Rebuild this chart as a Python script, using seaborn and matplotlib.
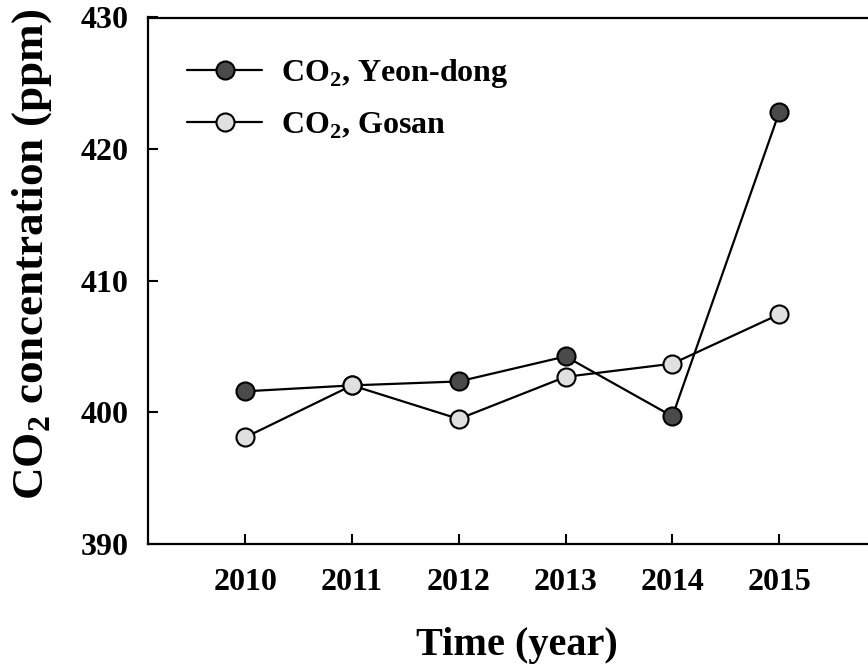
import matplotlib
matplotlib.use("Agg")
import matplotlib.pyplot as plt
import seaborn as sns
import pandas as pd

years = [2010, 2011, 2012, 2013, 2014, 2015]
yeondong = [401.6, 402.05, 402.35, 404.25, 399.7, 422.8]
gosan = [398.1, 402.05, 399.5, 402.7, 403.7, 407.45]
series_labels = [r"CO$_\mathregular{2}$, Yeon-dong", r"CO$_\mathregular{2}$, Gosan"]
face_colors = ["#4a4a4a", "#e0e0e0"]
y_ticks = [390, 400, 410, 420, 430]

sns.set_theme(style="ticks")
plt.rcParams["font.family"] = ["Liberation Serif", "DejaVu Serif"]
plt.rcParams["font.weight"] = "bold"
plt.rcParams["text.color"] = "black"
plt.rcParams["axes.labelcolor"] = "black"
plt.rcParams["xtick.color"] = "black"
plt.rcParams["ytick.color"] = "black"
plt.rcParams["mathtext.fontset"] = "custom"
plt.rcParams["mathtext.rm"] = "Liberation Serif:bold"
plt.rcParams["mathtext.bf"] = "Liberation Serif:bold"

fig = plt.figure(figsize=(8.68, 6.65), dpi=100)
ax = fig.add_axes([148 / 868, 121 / 665, 738 / 868, 526.5 / 665])

df = pd.DataFrame({"year": years * 2,
                   "co2": yeondong + gosan,
                   "site": [series_labels[0]] * 6 + [series_labels[1]] * 6})

for label, fc in zip(series_labels, face_colors):
    sns.lineplot(data=df[df["site"] == label], x="year", y="co2", ax=ax,
                 color="black", linewidth=1.6, marker="o", markersize=13,
                 markerfacecolor=fc, markeredgecolor="black",
                 markeredgewidth=1.5, label=label)

ax.set_xlim(2009.09, 2016.0)
ax.set_ylim(390, 430)
ax.set_xticks(years)
ax.set_yticks(y_ticks)
ax.tick_params(direction="in", length=7, width=1.5, labelsize=23,
               colors="black")
ax.tick_params(axis="x", pad=17)
ax.tick_params(axis="y", pad=14)
for lab in ax.get_xticklabels() + ax.get_yticklabels():
    lab.set_fontweight("bold")
for side in ["left", "bottom", "top", "right"]:
    ax.spines[side].set_linewidth(1.6)
    ax.spines[side].set_color("black")

ax.set_xlabel("Time (year)", fontsize=29, fontweight="bold", labelpad=22,
              color="black")
ax.set_ylabel(r"CO$_\mathregular{2}$ concentration (ppm)", fontsize=32.5,
              fontweight="bold", color="black")
ax.yaxis.set_label_coords(-0.128, 0.55)

leg = ax.legend(loc="upper left", bbox_to_anchor=(0.053, 0.925), frameon=False,
                fontsize=23, handlelength=2.35, handletextpad=0.6,
                labelspacing=0.64, borderpad=0, borderaxespad=0)
for t in leg.get_texts():
    t.set_fontweight("bold")
    t.set_color("black")

fig.savefig("out.png", dpi=100)
